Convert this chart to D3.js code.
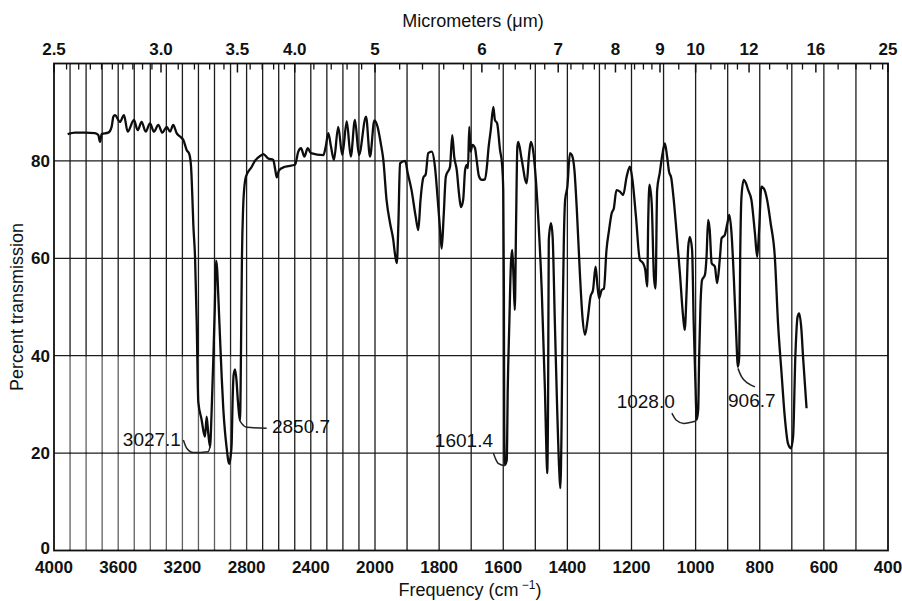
<!DOCTYPE html>
<html><head><meta charset="utf-8">
<script src="https://cdn.jsdelivr.net/npm/d3@7"></script>
<style>html,body{margin:0;padding:0;background:#fff;} svg{display:block;}</style>
</head><body>
<svg id="chart" width="902" height="601"></svg>
<script>
// ---- Data ----
const wavenumber = [3915,3869,3807,3745,3724,3713,3703,3662,3641,3630,3620,3589,3564,3541,3502,3479,3454,3429,3402,3377,3350,3325,3298,3277,3257,3236,3215,3194,3173,3157,3146,3138,3132,3121,3111,3101,3080,3070,3059,3049,3039,3028,3017,3007,2998,2991,2984,2976,2966,2955,2945,2935,2924,2914,2908,2899,2893,2887,2881,2872,2863,2855,2847,2841,2837,2833,2829,2822,2813,2804,2768,2748,2706,2696,2665,2634,2623,2612,2598,2561,2498,2478,2461,2440,2419,2399,2322,2307,2291,2274,2256,2229,2204,2176,2151,2125,2100,2056,2031,2004,1992,1982,1974,1964,1953,1943,1938,1932,1927,1922,1906,1898,1886,1873,1865,1858,1849,1842,1834,1823,1813,1805,1797,1792,1786,1779,1766,1759,1753,1745,1738,1732,1725,1719,1714,1710,1706,1702,1696,1688,1683,1676,1667,1657,1651,1646,1639,1631,1626,1619,1610,1604,1600,1598,1597,1595,1589,1586,1581,1576,1572,1568,1564,1560,1556,1553,1543,1527,1520,1514,1507,1499,1491,1480,1470,1465,1463,1460,1458,1451,1446,1439,1432,1425,1422,1418,1415,1411,1407,1400,1392,1386,1378,1371,1361,1353,1345,1337,1328,1320,1312,1306,1301,1293,1286,1278,1270,1262,1255,1247,1236,1226,1215,1205,1197,1186,1174,1164,1157,1151,1148,1144,1137,1130,1125,1120,1112,1103,1096,1089,1083,1076,1069,1060,1049,1039,1034,1028,1023,1018,1011,1006,1000,997,992,989,985,980,971,966,961,956,950,940,933,924,919,909,901,895,888,881,874,868,864,861,857,850,843,836,826,815,808,802,795,787,777,766,753,743,732,722,712,703,696,689,682,677,670,665,654];
const transmission = [85.5,85.8,85.8,85.7,85.3,83.9,85.5,85.8,87.0,89.1,89.4,88.0,89.4,86.0,88.4,86.3,88.0,86.0,87.7,86.0,87.4,85.8,87.0,86.0,87.4,85.7,85.0,84.3,82.2,81.4,78.8,72.6,67.0,60.0,47.0,30.5,26.8,24.7,23.4,27.5,24.1,21.3,29.5,39.8,50.0,59.5,58.0,52.0,44.0,35.5,29.0,24.5,21.0,18.4,17.8,19.5,22.0,31.0,36.0,37.2,35.0,31.0,28.0,26.7,34.0,48.0,60.0,70.0,75.0,76.8,78.8,80.0,81.2,81.4,80.5,80.2,78.5,76.6,78.1,78.8,79.2,81.9,82.6,80.9,82.6,81.6,81.2,82.9,85.7,82.9,80.2,87.0,81.2,88.1,80.9,88.4,81.2,89.1,80.9,88.3,87.0,83.6,80.2,72.0,67.2,63.8,61.0,59.0,67.2,79.5,80.0,77.5,74.0,68.5,65.8,72.0,76.6,77.2,81.6,81.9,78.8,72.6,65.8,62.0,68.5,76.8,78.8,85.3,80.9,78.1,73.3,70.5,72.0,78.1,79.2,78.5,87.0,81.9,83.3,82.6,80.2,76.9,76.1,76.2,78.8,82.6,86.3,91.1,88.4,87.7,82.2,79.5,74.0,53.5,26.1,17.6,18.6,33.0,46.7,59.0,61.7,56.2,49.4,67.2,82.9,83.9,80.5,75.4,80.9,83.9,82.2,76.8,68.5,53.5,33.0,19.3,15.9,33.0,63.8,67.2,64.4,46.7,29.5,15.9,12.8,26.1,46.7,63.8,72.0,74.7,81.6,81.2,78.1,70.6,56.9,48.0,44.3,47.3,52.1,53.5,58.3,54.2,51.8,53.5,53.8,61.7,65.8,69.2,70.3,74.0,73.7,73.0,76.8,78.8,76.1,68.5,59.7,59.0,57.6,54.2,67.2,75.1,71.3,56.2,53.8,74.0,77.5,81.6,83.6,80.9,77.8,76.5,72.5,65.8,56.9,48.0,45.3,53.5,62.4,64.4,61.7,46.7,33.0,26.8,28.9,39.8,50.1,55.5,56.6,60.3,67.9,65.8,59.0,58.3,54.9,60.3,64.1,64.8,67.2,68.9,65.1,56.2,45.3,37.7,39.8,60.3,72.6,76.1,75.4,74.0,72.0,65.1,60.3,65.8,74.7,74.3,72.0,67.2,60.3,46.7,36.4,27.5,22.0,21.0,23.4,39.8,48.0,48.7,45.3,39.8,29.2];

// axis tick values
const freqTickLabels = [4000,3600,3200,2800,2400,2000,1800,1600,1400,1200,1000,800,600,400];
const percentTicks = [0,20,40,60,80];
const micronLabels = ["2.5","3.0","3.5","4.0","5","6","7","8","9","10","12","16","25"];
const micronMinor = [2.55,2.6,2.65,2.7,2.75,2.8,2.85,2.9,2.95,3.1,3.2,3.3,3.4,3.6,3.7,3.8,3.9,4.2,4.4,4.6,4.8,5.2,5.4,5.6,5.8,6.2,6.4,6.6,6.8,7.2,7.4,7.6,7.8,8.2,8.4,8.6,8.8,9.5,10.5,11,11.5,13,14,15,18,20,22,24];

// peak annotations
const annLabels = ["3027.1","2850.7","1601.4","1028.0","906.7"];
const annTextFreq = [3209, 2642, 1632, 1065, 899];
const annTextT = [21.5, 24.1, 21.3, 29.3, 29.5];
const leader3027 = [[3194,22.7],[3173,21.0],[3132,20.1],[3039,20.3],[3028,21.3]];
const leader2850 = [[2841,26.6],[2831,26.1],[2799,25.3],[2675,25.1]];
const leader1601 = [[1631,20.0],[1616,17.9],[1595,17.4]];
const leader1028 = [[1074,28.2],[1061,26.8],[1037,26.1],[999,26.6]];
const leader906 = [[868,37.4],[857,35.7],[836,34.3],[815,33.6]];

// ---- Drawing ----
const svg = d3.select("#chart");
const FONT = "'Liberation Sans', Arial, Helvetica, sans-serif";
const x = d3.scaleLinear().domain([4000, 2000, 400]).range([54, 375, 888]);
const y = d3.scaleLinear().domain([0, 100]).range([550.5, 63.5]);

const grid = svg.append("g");
// vertical grid every 100 cm-1
d3.range(3900, 400, -100).forEach(f => {
  grid.append("line").attr("x1", x(f)).attr("x2", x(f))
    .attr("y1", y(0)).attr("y2", y(100))
    .attr("stroke", "#1c1c1c").attr("stroke-width", 1.3);
});
percentTicks.filter(p => p > 0).forEach(p => {
  grid.append("line").attr("x1", x(4000)).attr("x2", x(400))
    .attr("y1", y(p)).attr("y2", y(p))
    .attr("stroke", "#1c1c1c").attr("stroke-width", 1.3);
});

// faded photocopy patch in the lower-left (over the grid only)
svg.append("rect").attr("x", x(4000) + 1).attr("y", y(40) + 1)
  .attr("width", x(2800) - x(4000) - 1).attr("height", y(20) - y(40) - 2)
  .attr("fill", "#fff").attr("opacity", 0.3);
svg.append("rect").attr("x", x(4000) + 1).attr("y", y(20) + 1)
  .attr("width", x(2800) - x(4000) - 1).attr("height", y(0) - y(20) - 2)
  .attr("fill", "#fff").attr("opacity", 0.3);

// frame
svg.append("rect").attr("x", x(4000)).attr("y", y(100))
  .attr("width", x(400) - x(4000)).attr("height", y(0) - y(100))
  .attr("fill", "none").attr("stroke", "#111").attr("stroke-width", 1.8);

// top micrometer ticks
const topG = svg.append("g");
micronMinor.forEach(m => {
  topG.append("line").attr("x1", x(10000 / m)).attr("x2", x(10000 / m))
    .attr("y1", y(100)).attr("y2", y(100) + 6)
    .attr("stroke", "#111").attr("stroke-width", 1.3);
});
micronLabels.forEach(s => {
  const m = +s, px = x(10000 / m);
  topG.append("line").attr("x1", px).attr("x2", px)
    .attr("y1", y(100)).attr("y2", y(100) + 9)
    .attr("stroke", "#111").attr("stroke-width", 1.5);
  topG.append("text").attr("x", px).attr("y", 55)
    .attr("text-anchor", "middle").attr("font-family", FONT)
    .attr("font-size", 17).attr("font-weight", "bold").attr("fill", "#111").text(s);
});
svg.append("text").attr("x", 473).attr("y", 27).attr("text-anchor", "middle")
  .attr("font-family", FONT).attr("font-size", 18).attr("fill", "#111")
  .text("Micrometers (\u03bcm)");

// bottom labels
freqTickLabels.forEach(f => {
  svg.append("text").attr("x", x(f)).attr("y", 573).attr("text-anchor", "middle")
    .attr("font-family", FONT).attr("font-size", 17).attr("font-weight", "bold")
    .attr("fill", "#111").text(f);
});
const ft = svg.append("text").attr("x", 470).attr("y", 596).attr("text-anchor", "middle")
  .attr("font-family", FONT).attr("font-size", 18).attr("fill", "#111");
ft.append("tspan").text("Frequency (cm");
ft.append("tspan").attr("dy", -7).attr("font-size", 12).text(" \u22121");
ft.append("tspan").attr("dy", 7).text(")");

// y labels
percentTicks.forEach(p => {
  svg.append("text").attr("x", 50).attr("y", p === 0 ? y(p) - 3 : y(p)).attr("dy", "0.36em")
    .attr("text-anchor", "end").attr("font-family", FONT).attr("font-size", 17)
    .attr("font-weight", "bold").attr("fill", "#111").text(p);
});
svg.append("text").attr("transform", "translate(23,307) rotate(-90)")
  .attr("text-anchor", "middle").attr("font-family", FONT).attr("font-size", 18)
  .attr("fill", "#111").text("Percent transmission");

// spectrum
const pts = wavenumber.map((f, i) => [f, transmission[i]]);
const line = d3.line().x(d => x(d[0])).y(d => y(d[1])).curve(d3.curveMonotoneX);
svg.append("path").datum(pts).attr("d", line)
  .attr("fill", "none").attr("stroke", "#0d0d0d").attr("stroke-width", 2.3)
  .attr("stroke-linejoin", "round");

// annotations
const leaders = [leader3027, leader2850, leader1601, leader1028, leader906];
const anchors = ["end", "start", "end", "end", "start"];
leaders.forEach(L => {
  svg.append("path").datum(L).attr("d", line)
    .attr("fill", "none").attr("stroke", "#222").attr("stroke-width", 1.5);
});
annLabels.forEach((s, i) => {
  svg.append("text").attr("x", x(annTextFreq[i])).attr("y", y(annTextT[i]))
    .attr("text-anchor", anchors[i]).attr("font-family", FONT)
    .attr("font-size", 19).attr("fill", "#111").text(s);
});
</script>
</body></html>
